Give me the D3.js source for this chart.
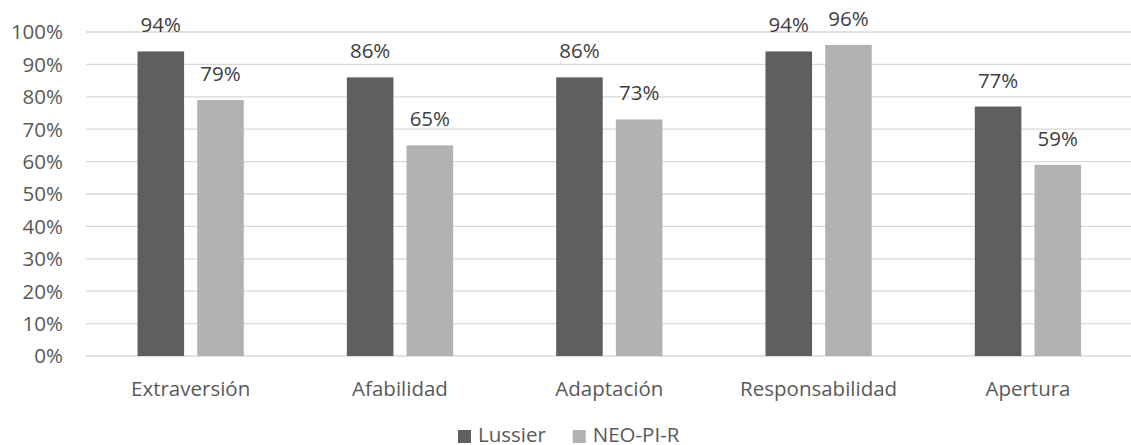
<!DOCTYPE html>
<html><head><meta charset="utf-8">
<script src="https://cdn.jsdelivr.net/npm/d3@7"></script>
<style>body{margin:0;background:#fff}svg{display:block}text{font-family:"Open Sans",sans-serif}</style>
</head><body>
<svg id="c" width="1131" height="445"></svg>
<script>
const categories = ["Extraversión","Afabilidad","Adaptación","Responsabilidad","Apertura"];
const seriesNames = ["Lussier","NEO-PI-R"];
const lussier = [0.94,0.86,0.86,0.94,0.77];
const neo = [0.79,0.65,0.73,0.96,0.59];
const yTicks = [0,0.1,0.2,0.3,0.4,0.5,0.6,0.7,0.8,0.9,1.0];
const colors = ["#5f5f5f","#b2b2b2"];

(function(){
const svg = d3.select("#c");
const pL = 86, pR = 1132.6, pT = 32, pB = 356;
const fs = 20.5;
const x0 = d3.scaleBand().domain(categories).range([pL,pR]).padding(0);
const x1 = d3.scaleBand().domain(seriesNames).range([0,x0.bandwidth()]).paddingInner(0.22).paddingOuter(0.863);
const y = d3.scaleLinear().domain([0,1]).range([pB,pT]);
const fmt = d3.format(".0%");

svg.append("g").selectAll("line").data(yTicks).join("line")
  .attr("x1",pL).attr("x2",1131).attr("y1",d=>y(d)).attr("y2",d=>y(d))
  .attr("stroke","#d9d9d9").attr("stroke-width",1.3);

const yAxis = d3.axisLeft(y).tickValues(yTicks).tickFormat(fmt).tickSize(0).tickPadding(0);
const ga = svg.append("g").attr("transform","translate(63,0)").call(yAxis);
ga.select(".domain").remove();
ga.selectAll("text").attr("fill","#595959").attr("font-size",fs).attr("font-family","Open Sans").attr("dy","0.34em");

const xAxis = d3.axisBottom(x0).tickSize(0).tickPadding(0);
const gx = svg.append("g").attr("transform","translate(0,396)").call(xAxis);
gx.select(".domain").remove();
gx.selectAll("text").attr("fill","#595959").attr("font-size",fs).attr("font-family","Open Sans").attr("dy","0");

const data = categories.map((c,i)=>({cat:c, vals:[{s:seriesNames[0],v:lussier[i]},{s:seriesNames[1],v:neo[i]}]}));
const g = svg.append("g").selectAll("g").data(data).join("g").attr("transform",d=>`translate(${x0(d.cat)},0)`);
g.selectAll("rect").data(d=>d.vals).join("rect")
  .attr("x",d=>x1(d.s)).attr("width",x1.bandwidth())
  .attr("y",d=>y(d.v)).attr("height",d=>pB-y(d.v))
  .attr("fill",(d,i)=>colors[i]);
g.selectAll("text.lbl").data(d=>d.vals).join("text").attr("class","lbl")
  .attr("x",d=>x1(d.s)+x1.bandwidth()/2).attr("y",d=>y(d.v)-19)
  .attr("text-anchor","middle").attr("font-size",fs).attr("fill","#404040")
  .text(d=>fmt(d.v));

const lx = [458, 572.7];
const lg = svg.append("g").selectAll("g").data(seriesNames).join("g").attr("transform",(d,i)=>`translate(${lx[i]},0)`);
lg.append("rect").attr("x",0).attr("y",430).attr("width",13).attr("height",13).attr("fill",(d,i)=>colors[i]);
lg.append("text").attr("x",20).attr("y",442).attr("font-size",fs).attr("fill","#595959").text(d=>d);
})();
</script>
</body></html>
